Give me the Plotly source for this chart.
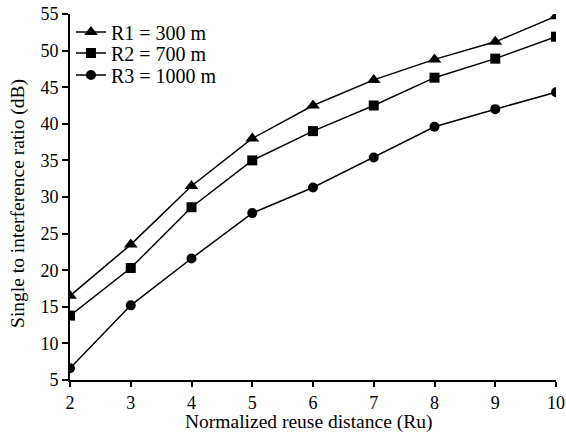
import plotly.graph_objects as go

reuse_distance = [2, 3, 4, 5, 6, 7, 8, 9, 10]
r1_300m = [16.5, 23.5, 31.5, 38.0, 42.5, 46.0, 48.8, 51.2, 54.7]
r2_700m = [13.8, 20.3, 28.6, 35.0, 39.0, 42.5, 46.3, 48.9, 51.9]
r3_1000m = [6.6, 15.2, 21.6, 27.8, 31.3, 35.4, 39.6, 42.0, 44.3]
series_names = ["R1 = 300 m", "R2 = 700 m", "R3 = 1000 m"]
x_ticks = [2, 3, 4, 5, 6, 7, 8, 9, 10]
y_ticks = [5, 10, 15, 20, 25, 30, 35, 40, 45, 50, 55]
x_title = "Normalized reuse distance (Ru)"
y_title = "Single to interference ratio (dB)"

W, H = 566, 433
L, R, T, B = 70, 10, 14, 53
pw, ph = W - L - R, H - T - B
font = "Liberation Serif, Times New Roman, serif"

fig = go.Figure()
legend_ids = ["legend", "legend2", "legend3"]
for name, ys, sym, sz, lg in zip(series_names, [r1_300m, r2_700m, r3_1000m],
                                 ["triangle-up", "square", "circle"], [12, 10, 10], legend_ids):
    fig.add_trace(go.Scatter(x=reuse_distance, y=ys, name=name, mode="lines+markers",
                             line=dict(color="black", width=1.5), legend=lg,
                             marker=dict(symbol=sym, size=sz, color="black")))

fig.add_annotation(text=x_title, xref="paper", yref="paper", x=0.491,
                   y=-42 / ph, xanchor="center", yanchor="middle",
                   showarrow=False, font=dict(size=19.5))
fig.add_annotation(text=y_title, xref="paper", yref="paper", x=-52 / pw,
                   y=0.481, xanchor="center", yanchor="middle", textangle=-90,
                   showarrow=False, font=dict(size=19.5))

# one legend per row, so rows sit as tightly as in the reference
row_centers = [32, 53, 75]
legends = {}
for lg, yc in zip(legend_ids, row_centers):
    legends[lg] = dict(x=0.002, y=(H - B - yc) / ph, xanchor="left", yanchor="middle",
                       bgcolor="rgba(0,0,0,0)", font=dict(size=20), itemwidth=30)

fig.update_layout(
    width=W, height=H,
    margin=dict(l=L, r=R, t=T, b=B, autoexpand=False),
    plot_bgcolor="white", paper_bgcolor="white",
    font=dict(family=font, size=18, color="black"),
    showlegend=True,
    xaxis=dict(range=[2, 10], tickvals=x_ticks, showline=True, linecolor="black", linewidth=2,
               ticks="outside", ticklen=5, tickwidth=1.5, tickcolor="black", showgrid=False,
               zeroline=False, automargin=False, ticklabeloverflow="allow"),
    yaxis=dict(range=[5, 55], tickvals=y_ticks, showline=True, linecolor="black", linewidth=2,
               ticks="outside", ticklen=6, tickwidth=1.5, tickcolor="black", showgrid=False,
               zeroline=False, automargin=False, ticklabeloverflow="allow"),
    **legends,
)
fig.write_html("out.html", config={"displayModeBar": False},
               post_script="document.body.style.margin='0';")
